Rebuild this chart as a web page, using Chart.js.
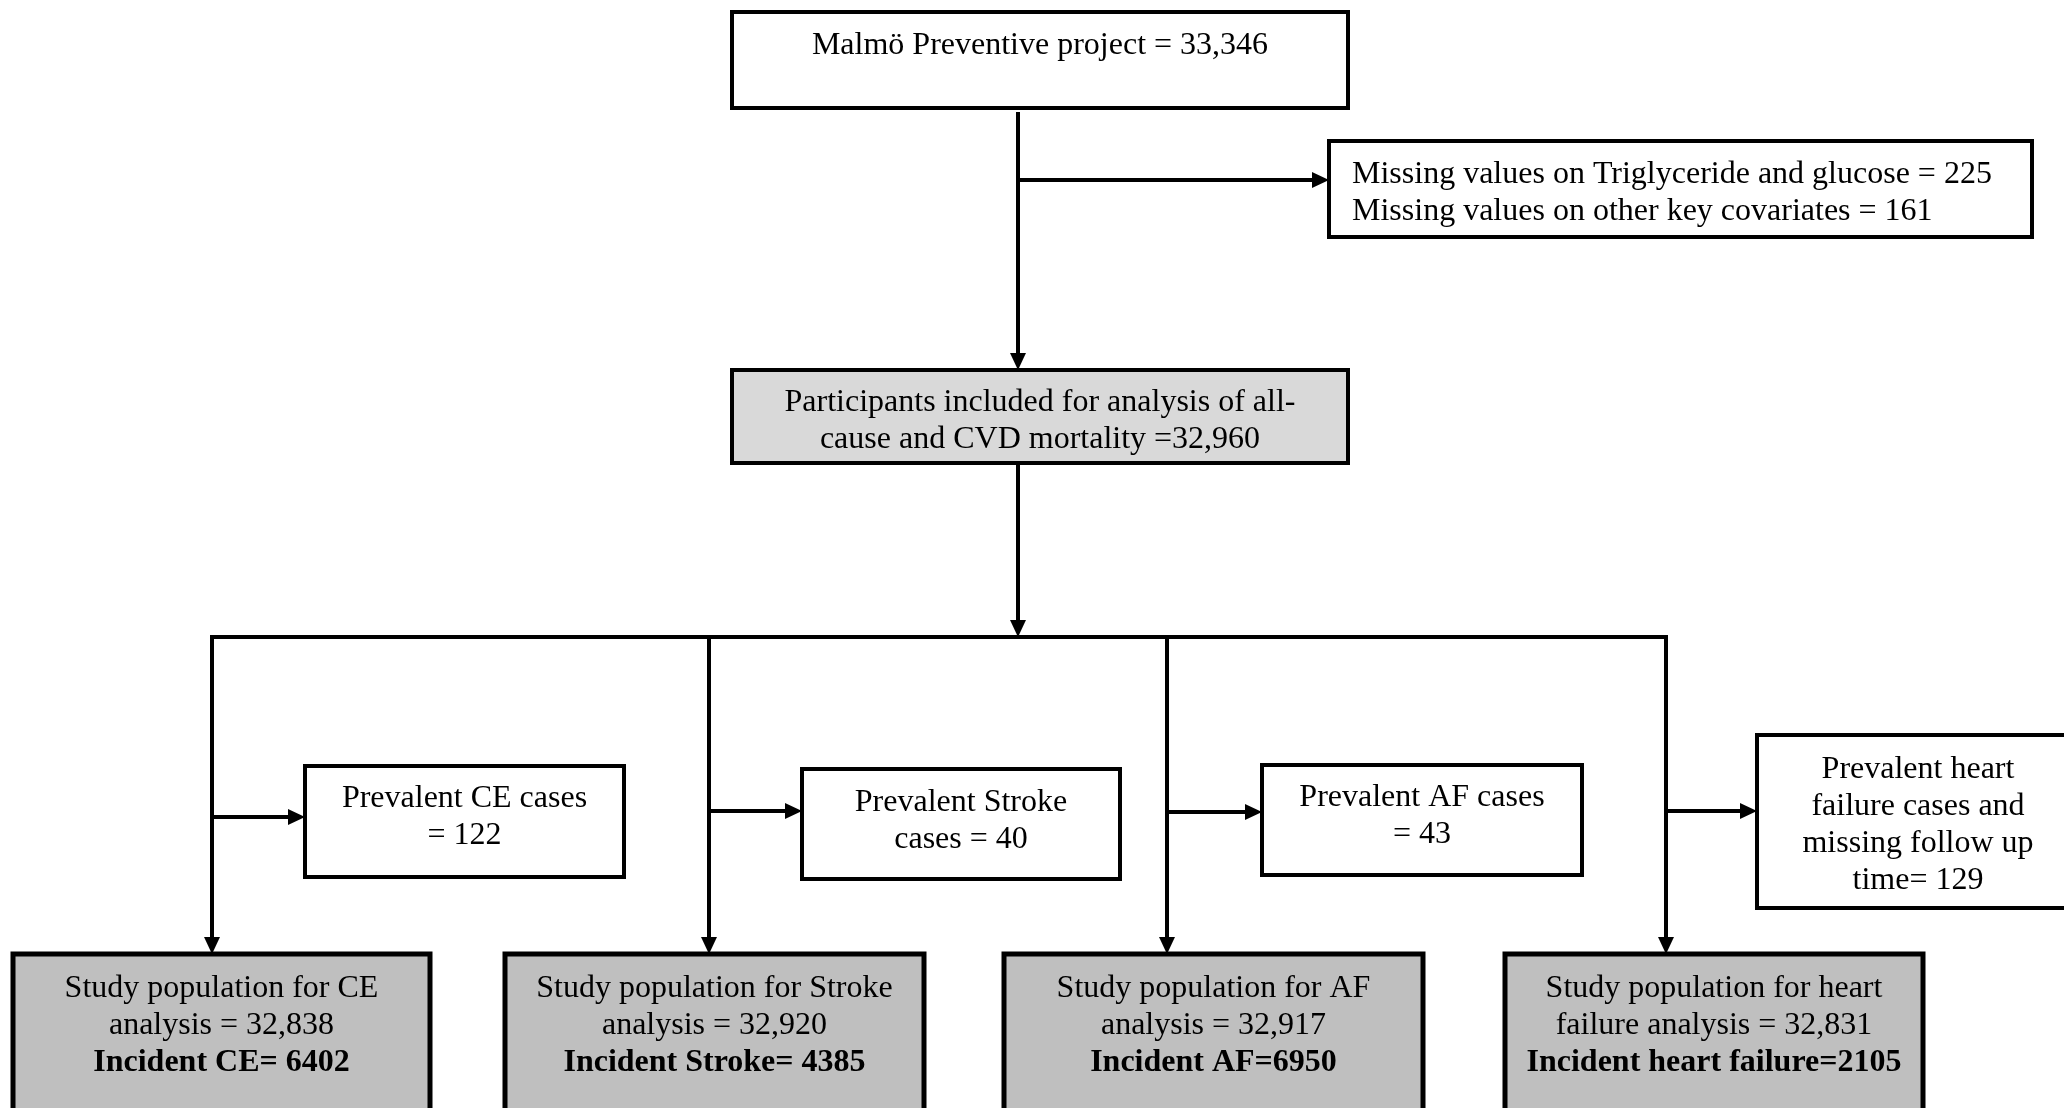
<!DOCTYPE html>
<html>
<head>
<meta charset="utf-8">
<script src="https://cdn.jsdelivr.net/npm/chart.js@4.4.0/dist/chart.umd.min.js"></script>
<style>
  html, body { margin: 0; padding: 0; background: #fff; overflow: hidden; }
  #wrap { width: 2064px; height: 1108px; }
</style>
</head>
<body>
<div id="wrap"><canvas id="flowChart"></canvas></div>
<script>
// Flow chart texts (counts from the study)
const startLines = ["Malmö Preventive project = 33,346"];
const excludedLines = [
  "Missing values on Triglyceride and glucose = 225",
  "Missing values on other key covariates = 161",
];
const includedLines = [
  "Participants included for analysis of all-",
  "cause and CVD mortality =32,960",
];
const prevalentLines = [
  ["Prevalent CE cases", "= 122"],
  ["Prevalent Stroke", "cases = 40"],
  ["Prevalent AF cases", "= 43"],
  ["Prevalent heart", "failure cases and", "missing follow up", "time= 129"],
];
const studyLines = [
  ["Study population for CE", "analysis = 32,838"],
  ["Study population for Stroke", "analysis = 32,920"],
  ["Study population for AF", "analysis = 32,917"],
  ["Study population for heart", "failure analysis = 32,831"],
];
const incidentLines = [
  "Incident CE= 6402",
  "Incident Stroke= 4385",
  "Incident AF=6950",
  "Incident heart failure=2105",
];

// Layout in page units (x right, y down)
const layout = {
  start: { x: 732, y: 12, w: 616, h: 96, textY: 46 },
  excluded: { x: 1329, y: 141, w: 703, h: 96, textX: 1352, textY: 175 },
  included: { x: 732, y: 370, w: 616, h: 93, textY: 403 },
  spineX: 1018,
  spineGap: 6,
  excludeArrowY: 180,
  branchY: 637,
  branchX: [212, 709, 1167, 1666],
  prevalent: [
    { x: 305, y: 766, w: 319, h: 111, textY: 799, arrowY: 817 },
    { x: 802, y: 769, w: 318, h: 110, textY: 803, arrowY: 811 },
    { x: 1262, y: 765, w: 320, h: 110, textY: 798, arrowY: 812 },
    { x: 1757, y: 735, w: 322, h: 173, textY: 770, arrowY: 811 },
  ],
  study: [
    { x: 13, y: 954, w: 417, h: 170, textY: 989 },
    { x: 505, y: 954, w: 419, h: 170, textY: 989 },
    { x: 1004, y: 954, w: 419, h: 170, textY: 989 },
    { x: 1505, y: 954, w: 418, h: 170, textY: 989 },
  ],
  lineHeight: 37,
};

const colors = {
  ink: "#000000",
  lightFill: "#d9d9d9",
  darkFill: "#bfbfbf",
  white: "#ffffff",
};

const arrowLen = 17;
const arrowHalf = 8;

// connectors: each is a polyline; the last point carries an arrowhead
function buildConnectors() {
  const L = layout;
  const list = [];
  list.push({ pts: [{ x: L.spineX, y: L.start.y + L.start.h + L.spineGap }, { x: L.spineX, y: L.included.y }], arrow: true });
  list.push({ pts: [{ x: L.spineX, y: L.excludeArrowY }, { x: L.excluded.x, y: L.excludeArrowY }], arrow: true });
  list.push({ pts: [{ x: L.spineX, y: L.included.y + L.included.h }, { x: L.spineX, y: L.branchY }], arrow: true });
  list.push({ pts: [{ x: L.branchX[0], y: L.branchY }, { x: L.branchX[3], y: L.branchY }], arrow: false });
  L.branchX.forEach((bx, i) => {
    list.push({ pts: [{ x: bx, y: L.branchY }, { x: bx, y: L.study[i].y }], arrow: true });
    const p = L.prevalent[i];
    list.push({ pts: [{ x: bx, y: p.arrowY }, { x: p.x, y: p.arrowY }], arrow: true });
  });
  return list;
}

const connectors = buildConnectors();

// shorten arrow lines so the stroke ends under the arrowhead
const datasets = connectors.map((c) => {
  const pts = c.pts.map((p) => ({ x: p.x, y: p.y }));
  if (c.arrow) {
    const a = pts[pts.length - 2], b = pts[pts.length - 1];
    const dx = Math.sign(b.x - a.x), dy = Math.sign(b.y - a.y);
    b.x -= dx * (arrowLen - 2);
    b.y -= dy * (arrowLen - 2);
  }
  return {
    data: pts,
    showLine: true,
    borderColor: colors.ink,
    borderWidth: 4,
    borderCapStyle: "square",
    pointRadius: 0,
    fill: false,
    tension: 0,
    clip: false,
  };
});

function drawBox(ctx, sx, sy, b, fill, lw) {
  const x0 = sx(b.x), y0 = sy(b.y), x1 = sx(b.x + b.w), y1 = sy(b.y + b.h);
  ctx.fillStyle = fill;
  ctx.fillRect(x0, y0, x1 - x0, y1 - y0);
  ctx.lineWidth = lw;
  ctx.strokeStyle = colors.ink;
  ctx.strokeRect(x0, y0, x1 - x0, y1 - y0);
}

function drawLines(ctx, sx, sy, lines, cx, y, align, bold) {
  ctx.fillStyle = colors.ink;
  ctx.textAlign = align;
  ctx.textBaseline = "middle";
  lines.forEach((t, i) => {
    const isBold = bold && bold[i];
    ctx.font = (isBold ? "bold " : "") + "32px 'Liberation Serif', 'Times New Roman', serif";
    ctx.fillText(t, sx(cx), sy(y + i * layout.lineHeight));
  });
}

const flowPlugin = {
  id: "flowBoxes",
  afterDatasetsDraw(chart) {
    const ctx = chart.ctx;
    const sx = (v) => chart.scales.x.getPixelForValue(v);
    const sy = (v) => chart.scales.y.getPixelForValue(v);
    const L = layout;
    ctx.save();

    // arrowheads
    ctx.fillStyle = colors.ink;
    connectors.filter((c) => c.arrow).forEach((c) => {
      const a = c.pts[c.pts.length - 2], b = c.pts[c.pts.length - 1];
      const dx = Math.sign(b.x - a.x), dy = Math.sign(b.y - a.y);
      const bx = sx(b.x), by = sy(b.y);
      ctx.beginPath();
      ctx.moveTo(bx, by);
      ctx.lineTo(bx - dx * arrowLen - dy * arrowHalf, by - dy * arrowLen - dx * arrowHalf);
      ctx.lineTo(bx - dx * arrowLen + dy * arrowHalf, by - dy * arrowLen + dx * arrowHalf);
      ctx.closePath();
      ctx.fill();
    });

    // top boxes
    drawBox(ctx, sx, sy, L.start, colors.white, 4);
    drawLines(ctx, sx, sy, startLines, L.start.x + L.start.w / 2, L.start.textY, "center");

    drawBox(ctx, sx, sy, L.excluded, colors.white, 4);
    drawLines(ctx, sx, sy, excludedLines, L.excluded.textX, L.excluded.textY, "left");

    drawBox(ctx, sx, sy, L.included, colors.lightFill, 4);
    drawLines(ctx, sx, sy, includedLines, L.included.x + L.included.w / 2, L.included.textY, "center");

    // prevalent and study boxes
    L.prevalent.forEach((b, i) => {
      drawBox(ctx, sx, sy, b, colors.white, 4);
      drawLines(ctx, sx, sy, prevalentLines[i], b.x + b.w / 2, b.textY, "center");
    });
    L.study.forEach((b, i) => {
      drawBox(ctx, sx, sy, b, colors.darkFill, 5);
      const lines = studyLines[i].concat([incidentLines[i]]);
      drawLines(ctx, sx, sy, lines, b.x + b.w / 2, b.textY, "center", [false, false, true]);
    });

    ctx.restore();
  },
};

new Chart(document.getElementById("flowChart").getContext("2d"), {
  type: "scatter",
  data: { datasets },
  options: {
    responsive: true,
    maintainAspectRatio: false,
    devicePixelRatio: 1,
    animation: false,
    layout: { padding: 0 },
    plugins: {
      legend: { display: false },
      tooltip: { enabled: false },
    },
    scales: {
      x: { type: "linear", min: 0, max: 2064, display: false },
      y: { type: "linear", min: 0, max: 1108, reverse: true, display: false },
    },
  },
  plugins: [flowPlugin],
});
</script>
</body>
</html>
